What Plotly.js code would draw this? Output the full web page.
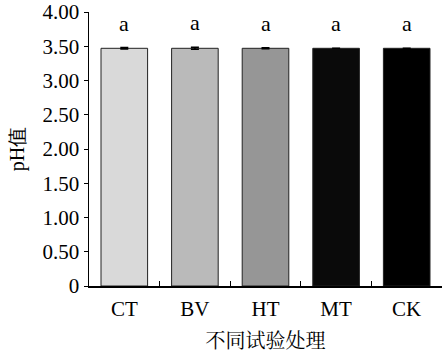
<!DOCTYPE html>
<html><head><meta charset="utf-8">
<script src="https://cdn.plot.ly/plotly-3.0.1.min.js"></script>
<style>html,body{margin:0;padding:0;background:#fff;}#chart{width:445px;height:355px;}</style>
</head><body><div id="chart"></div>
<script>
const categories = ["CT", "BV", "HT", "MT", "CK"];
const phValues = [3.47, 3.47, 3.47, 3.47, 3.47];
const phErrors = [0.01, 0.015, 0.008, 0, 0];
const sigLabels = ["a", "a", "a", "a", "a"];
const barColors = ["#d9d9d9", "#bababa", "#969696", "#0a0a0a", "#000000"];
const yTickVals = [0, 0.5, 1, 1.5, 2, 2.5, 3, 3.5, 4];
const yTickText = ["0", "0.50", "1.00", "1.50", "2.00", "2.50", "3.00", "3.50", "4.00"];

const serif = "'Liberation Serif', 'Times New Roman', serif";
const trace = {
  type: "bar",
  x: categories,
  y: phValues,
  width: 0.66,
  marker: {color: barColors, line: {color: "#222", width: 1}},
  error_y: {type: "data", array: phErrors, visible: true, color: "#000", thickness: 1.5, width: 4},
  hoverinfo: "none"
};
const annotations = categories.map((c, i) => ({
  x: c, y: phValues[i] + phErrors[i], xref: "x", yref: "y",
  text: sigLabels[i], showarrow: false, yanchor: "bottom", yshift: 10,
  font: {family: serif, size: 22, color: "#000"}
}));
const layout = {
  width: 445, height: 355,
  margin: {l: 89, r: 3, t: 12, b: 69},
  paper_bgcolor: "#fff", plot_bgcolor: "#fff",
  showlegend: false,
  font: {family: serif, size: 21, color: "#000"},
  annotations: annotations,
  xaxis: {
    type: "category",
    tickson: "boundaries",
    ticks: "inside", ticklen: 5, tickcolor: "#000", tickwidth: 1,
    showline: true, linecolor: "#000", linewidth: 1.5,
    showgrid: false, zeroline: false,
    ticklabelstandoff: 3,
    tickfont: {family: serif, size: 21},
    title: {text: "不同试验处理", font: {family: "'Noto Serif CJK SC', 'Noto Sans CJK SC', serif", size: 20}, standoff: 14}
  },
  yaxis: {
    range: [0, 4],
    tickvals: yTickVals, ticktext: yTickText,
    ticks: "outside", ticklen: 4, tickcolor: "#000", tickwidth: 1,
    showline: true, linecolor: "#000", linewidth: 1.5,
    showgrid: false, zeroline: false,
    tickfont: {family: serif, size: 21},
    title: {text: "pH值", font: {family: serif, size: 20}, standoff: 12}
  },
  bargap: 0.34
};
Plotly.newPlot("chart", [trace], layout, {displayModeBar: false, staticPlot: true});
</script></body></html>
